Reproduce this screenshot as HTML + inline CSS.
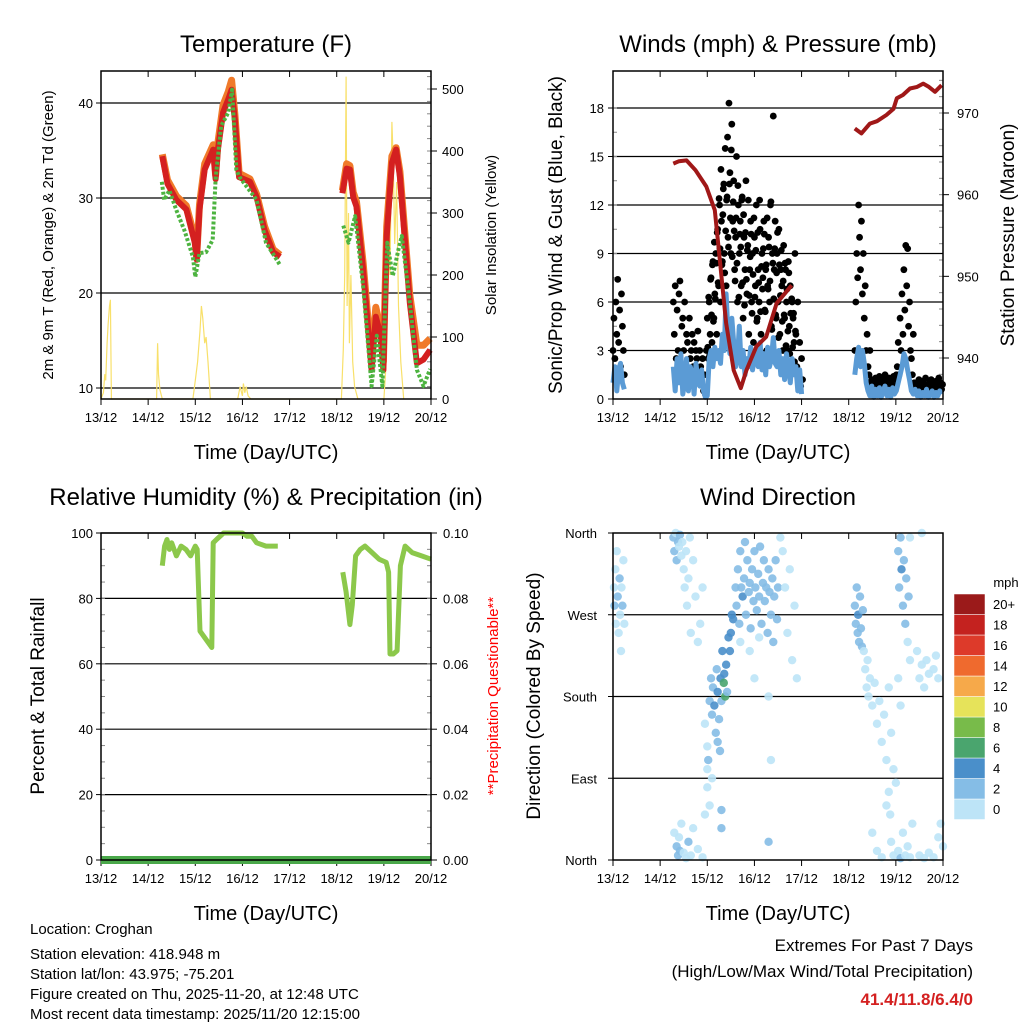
<!DOCTYPE html>
<html><head><meta charset="utf-8"><style>
body{margin:0;background:#fff;}
svg{display:block;font-family:"Liberation Sans",sans-serif;}
</style></head><body>
<svg id="fig" width="1024" height="1024" viewBox="0 0 1024 1024"></svg>
<script>
// ---------- data ----------
const dayLabels=["13/12","14/12","15/12","16/12","17/12","18/12","19/12","20/12"];
const tempTicks=[10,20,30,40];
const solarTicks=[0,100,200,300,400,500];
const windTicks=[0,3,6,9,12,15,18];
const presTicks=[940,950,960,970];
const rhTicks=[0,20,40,60,80,100];
const rainTicks=["0.00","0.02","0.04","0.06","0.08","0.10"];
const dirNames=["North","East","South","West","North"];
const speedLabels=["0","2","4","6","8","10","12","14","16","18","20+"];
const speedColors=["#bde4f7","#85bde6","#4a8fca","#4aa56e","#78bb4a","#e6e35a","#f6a94a","#ef6a2e","#dd3a2a","#c4221f","#9b1a1a"];

const t9T=[1.30,1.41,1.60,1.81,1.99,2.03,2.09,2.20,2.38,2.43,2.48,2.59,2.70,2.77,2.84,2.93,3.16,3.30,3.47,3.65,3.80];
const t9V=[34.4,31.5,29.8,28.8,25.3,23.5,28.8,33.0,35.1,32.0,35.1,39.0,40.4,41.4,38.2,32.2,31.7,30.1,26.6,24.3,23.8];
const t9T2=[5.12,5.21,5.28,5.35,5.42,5.56,5.74,5.83,5.92,5.99,6.06,6.17,6.26,6.34,6.55,6.70,6.84,6.98];
const t9V2=[30.5,33.1,33.0,30.1,29.1,22.5,11.9,17.5,15.8,11.9,26.0,33.7,35.1,32.3,19.0,12.6,13.0,14.0];
const t2T=[1.30,1.41,1.60,1.81,1.99,2.03,2.09,2.20,2.38,2.43,2.48,2.59,2.70,2.77,2.84,2.93,3.16,3.30,3.47,3.65,3.80];
const t2V=[34.6,31.9,30.2,29.2,25.8,23.8,29.3,33.6,35.6,32.4,35.8,39.8,41.2,42.4,38.8,32.6,32.0,30.4,27.0,24.6,24.0];
const t2T2=[5.12,5.21,5.28,5.35,5.42,5.56,5.74,5.83,5.92,5.99,6.06,6.17,6.26,6.34,6.55,6.70,6.84,6.98];
const t2V2=[30.8,33.6,33.4,30.6,29.6,23.2,12.8,18.5,16.5,12.8,27.0,34.4,35.3,32.8,19.8,14.5,14.5,15.2];
const tdT=[1.29,1.34,1.45,1.60,1.77,1.95,2.00,2.09,2.23,2.37,2.43,2.55,2.70,2.78,2.87,2.94,3.30,3.50,3.79];
const tdV=[31.7,29.8,30.8,28.7,26.6,23.8,21.7,24.2,24.3,25.6,32.0,37.6,39.0,41.4,33.0,32.2,29.8,25.3,23.0];
const tdT2=[5.14,5.25,5.39,5.56,5.74,5.85,5.97,6.07,6.19,6.31,6.38,6.55,6.70,6.84,6.98];
const tdV2=[27.1,25.3,28.1,20.7,10.2,15.5,10.2,25.3,21.8,24.6,26.0,19.0,11.9,10.2,12.0];
const solT=[0,0.05,0.08,0.1,0.13,0.15,0.18,0.2,0.22,1.18,1.2,1.22,1.25,1.3,1.95,2.0,2.05,2.1,2.13,2.16,2.2,2.23,2.27,2.32,2.9,2.95,3.0,3.02,3.05,3.08,3.12,3.18,5.1,5.14,5.17,5.2,5.22,5.25,5.27,5.3,5.34,5.38,5.45,5.5,6.0,6.05,6.1,6.13,6.17,6.2,6.23,6.27,6.31,6.36,6.42];
const solV=[0,10,40,30,90,120,150,160,0,0,90,40,15,0,0,30,60,110,150,130,90,100,60,0,0,20,5,25,10,20,5,0,0,80,200,520,150,300,90,200,60,20,0,0,0,60,300,200,447,380,250,350,150,60,0];

const presT=[1.28,1.40,1.56,1.75,1.98,2.16,2.26,2.40,2.56,2.71,2.83,3.04,3.25,3.47,3.79];
const presV=[963.8,964.1,964.2,963.0,961.0,958.1,952.4,944.3,938.5,936.3,938.5,941.4,942.6,946.7,948.9];
const presT2=[5.13,5.27,5.45,5.60,5.80,5.95,6.02,6.15,6.30,6.45,6.58,6.70,6.83,6.97];
const presV2=[968.1,967.5,968.7,969.0,969.75,970.5,971.8,972.2,973.0,973.2,973.6,973.2,972.6,973.4];

const windA=[1,2,0.5,1.8,2.2,1,0.6];
const windB=[2,0.5,2.5,1,2.8,0.3,1,2.5,0.5,2,1.5,0.3,2.2,1,0.8,1.8,0.5,0.1,0.2,2.5,3,2,3.2,2.5,3,2.2,4,3,6.5,4,2.8,5,3.5,2,2.5,4.5,2,3,1.5,2.5,2,3.2,1.8,2.5,3,2,3.5,1.8,2.8,1.5,3.2,2,2.5,3.8,2.2,2,3,1.5,2.5,1.2,2.8,2,1,2.5,1.5,2,0.5,1.8,0.3];
const windC=[1.5,2.5,3.2,2,3,2.2,1,0.5,0.2,0.8,0.1,0.6,0.2,0.7,0.1,0.5,0.8,0.2,0.6,0.1,0.7,0.3,0.5,1,1.5,2,2.8,2.5,1.8,1.2,0.5,0.3,0.6,0.2,0.5,0.1,0.4,0.2,0.6,0.1,0.3,0.5,0.1,0.4,0.2,0.5,0.3];
const gustA=[3,5,2.5,6,4,7.4,3.5,5.5,2,6.5,4.5,3,1.5];
const gustB=[6,4,7,2.5,5.5,3,6.5,7.3,2,4.5,5,3,6,2,4,3.5,1.5,5,2.5,3,4,2,3.5,1.5,3,2.5,4.2,1,3,2,1,2.5,0.5,1.5,0.3,3,5,2.5,6,4,7.5,3.5,8.5,5,6.5,9,4,10.5,7,12,6,11,8.5,13,9,15.5,7,12.5,10,18.3,14,9,17,11,13.5,8,10,15,6,12,9,11,7,12.5,5,10,8,13.5,6.5,9.5,4,8,11,6,9,3.5,10,7,12,5,8,6,10.5,4,9,7.5,11,5.5,8,3,7,10,6,12,4.5,9,17.5,8,11,5,9,6,10.5,4,8,7,3,9.5,5,8,6,3,8.5,4.5,7,2,6,5,3.5,9,4,2,6,1,3.5,0.8,2.5,1.2];
const gustB2=[3.2,6.3,2.7,7.4,5.2,8.3,4.8,9.7,6.2,8.4,10.3,7.2,12.4,9.3,14.2,8.3,11.4,13.3,7.8,10.4,12.3,16.2,9.4,13.3,11.2,15.4,8.8,12.2,10.4,7.3,11.2,8.4,13.2,6.3,10.2,9.4,12.3,7.2,11.4,5.8,10.3,7.4,9.2,12.3,6.4,8.8,10.2,5.3,7.7,11.2,6.3,9.2,4.8,10.3,7.2,12.3,5.4,8.2,6.8,9.3,10.2,5.4,8.3,11.2,6.8,9.4,7.3,12.2,4.3,8.4,6.2,9.3,5.2,7.8,10.3,3.8,8.3,6.4,9.2,4.8,7.3,5.2,8.4,3.3,6.8,4.2,7.8,2.8,5.3,6.2,3.2,5.3,2.3,4.2,1.8];
const gustC=[3,6,9,7.5,12,10,8,11,6.5,9,5,7,3,4,2,1.5,3,1,1.2,0.8,1,0.6,1.3,0.8,1.1,0.5,1.4,0.9,1,0.6,1.2,0.7,1.5,0.8,1.0,0.6,1.3,0.9,0.7,1.1,0.6,1.4,0.8,1.2,1.5,2,3.5,1.5,5,3,6.5,4,8,5.5,9.5,7,9.3,4.5,6,3,2.5,1.5,4,1,0.8,0.6,1,0.7,1.2,0.5,0.9,0.8,1.1,0.6,0.7,1.3,0.5,0.9,0.7,1,0.6,1.2,0.8,0.5,0.9,0.7,1.1,0.6,0.8,1.3,0.7,1,0.6,0.9];

const rhT=[1.30,1.35,1.40,1.45,1.50,1.60,1.70,1.80,1.90,2.00,2.04,2.10,2.20,2.30,2.35,2.38,2.45,2.60,2.80,3.00,3.10,3.20,3.30,3.50,3.75];
const rhV=[90,96,98,95,97,93,96,95,93,96,95,70,68,66,65,97,98,100,100,100,99,99,97,96,96];
const rhT2=[5.13,5.20,5.28,5.33,5.40,5.50,5.60,5.75,5.90,6.05,6.10,6.13,6.20,6.28,6.35,6.45,6.60,6.80,7.00];
const rhV2=[88,82,72,78,93,95,96,94,92,91,88,63,63,64,90,96,94,93,92];

const dirT=[0.02,0.03,0.05,0.06,0.08,0.1,0.12,0.14,0.15,0.17,0.18,0.2,0.22,0.24,
1.28,1.3,1.33,1.35,1.38,1.4,1.42,1.45,1.47,1.5,1.52,1.55,1.57,1.6,1.63,1.65,1.7,1.75,1.8,1.85,1.9,
1.3,1.35,1.38,1.4,1.42,1.45,1.5,1.55,1.6,1.65,1.7,1.8,1.9,1.95,2.0,2.05,2.3,2.3,
1.95,2.0,2.02,2.05,2.08,2.1,2.12,2.15,2.18,2.2,2.22,2.25,2.28,2.3,2.32,2.35,2.36,2.38,2.4,2.42,2.45,2.48,2.5,2.52,2.55,2.22,2.27,2.1,2.0,
2.6,2.62,2.65,2.68,2.7,2.72,2.75,2.78,2.8,2.82,2.85,2.88,2.9,2.92,2.95,2.98,3.0,3.02,3.05,3.08,3.1,3.12,3.15,3.18,3.2,3.22,3.25,3.28,3.3,3.32,3.35,3.38,3.4,3.42,3.45,3.48,3.5,2.7,2.9,3.1,3.3,3.0,3.6,3.65,3.7,3.75,3.8,3.85,3.9,3.55,3.3,3.35,
5.13,5.15,5.17,5.19,5.2,5.22,5.24,5.26,5.28,5.3,5.32,5.35,5.38,5.4,5.42,5.45,5.5,5.55,5.6,5.65,5.7,5.75,5.8,5.85,5.9,5.95,5.5,5.6,5.7,5.8,5.85,5.88,5.9,5.95,6.0,
6.05,6.07,6.1,6.12,6.15,6.17,6.2,6.22,6.25,6.27,6.3,6.05,6.1,6.05,6.1,6.15,6.2,6.25,6.3,6.35,
6.45,6.5,6.55,6.6,6.65,6.7,6.8,6.85,6.9,6.5,6.6,6.7,6.8,6.9,6.95,7.0,6.55,6.3];
const dirV=[300,280,320,260,340,290,250,310,270,230,300,280,330,260,
355,340,360,330,350,345,358,335,350,320,300,340,280,310,355,250,330,290,240,260,300,
30,15,5,25,10,40,8,2,20,5,35,12,3,50,80,60,55,35,
150,125,110,175,200,160,190,170,140,210,185,155,200,175,230,195,205,180,215,185,245,230,250,270,265,130,120,90,100,
300,280,320,260,340,300,290,310,350,270,330,295,305,255,320,285,340,300,275,315,290,345,260,305,330,285,300,250,320,295,270,310,240,290,330,265,300,240,230,245,180,200,340,300,250,320,220,280,200,355,20,110,
280,260,300,250,270,240,290,255,235,275,230,210,190,220,180,200,170,195,150,175,130,160,110,190,140,100,30,10,3,60,75,50,20,5,85,
340,300,355,320,280,330,260,310,240,290,220,200,170,10,2,30,5,15,3,40,
230,200,215,190,220,205,210,225,200,5,2,8,3,25,40,15,360,355];
const dirS=[0,2,0,0,0,2,0,2,0,0,0,2,0,0,
2,2,0,2,2,0,2,0,0,0,0,0,0,0,0,0,0,0,0,0,0,
0,2,2,0,2,0,0,0,2,0,0,0,0,0,0,0,2,2,
0,0,2,2,2,2,2,4,2,2,4,2,4,2,4,6,4,6,4,2,4,4,4,4,4,2,2,0,0,
2,2,2,2,2,2,4,2,2,2,2,2,2,2,2,2,2,2,2,2,2,2,2,2,2,2,2,2,2,2,2,2,2,2,2,2,2,0,0,0,0,0,0,0,0,0,0,0,0,0,2,0,
2,2,2,2,4,2,2,2,2,2,0,0,0,0,0,0,0,0,0,0,0,0,0,0,0,0,0,0,0,0,0,0,0,0,0,
2,2,2,4,2,2,2,2,0,2,0,0,0,0,2,0,0,0,0,0,
0,0,0,0,0,0,0,0,0,0,0,0,0,0,0,0,0,0];

// ---------- helpers ----------
const NS="http://www.w3.org/2000/svg";
const svg=document.getElementById('fig');
function mk(tag,attrs,parent){const e=document.createElementNS(NS,tag);for(const k in attrs)e.setAttribute(k,attrs[k]);(parent||svg).appendChild(e);return e;}
function txt(s,x,y,size,anchor,extra,parent){const e=mk('text',Object.assign({x:x,y:y,'font-size':size,'text-anchor':anchor||'middle',fill:'#000'},extra||{}),parent);e.textContent=s;return e;}
function panel(x0,y0,x1,y1){return {x0,y0,x1,y1,xs:t=>x0+t*(x1-x0)/7};}
function lin(d0,d1,p0,p1){return v=>p0+(v-d0)*(p1-p0)/(d1-d0);}
function pathD(ts,vs,xs,ys){return ts.map((t,i)=>(i?'L':'M')+xs(t).toFixed(1)+','+ys(vs[i]).toFixed(1)).join('');}

function frame(P,name){
  const g=mk('g',{});
  
  
  dayLabels.forEach((d,i)=>{
    const x=P.xs(i);
    mk('line',{x1:x,y1:P.y1,x2:x,y2:P.y1+6,stroke:'#000','stroke-width':1},g);
    mk('line',{x1:x,y1:P.y0,x2:x,y2:P.y0+6,stroke:'#000','stroke-width':1},g);
    const l=txt(d,x,P.y1+23,13,'middle',{},g);
    
    
  });
  const xl=txt('Time (Day/UTC)',(P.x0+P.x1)/2,P.y1+60,20,'middle',{},g);
  
  
  return g;
}
function border(P){
  const r=mk('rect',{x:P.x0,y:P.y0,width:P.x1-P.x0,height:P.y1-P.y0,fill:'none',stroke:'#000','stroke-width':1.5});
  
  
}
function grid(P,ys,vals){vals.forEach(v=>{const l=mk('line',{x1:P.x0,x2:P.x1,y1:ys(v),y2:ys(v),stroke:'#000','stroke-width':1.2});});}

// ---------- Panel 1: Temperature ----------
const P1=panel(101,71,431,399);
const yT=lin(10,40,388,103), yS=lin(0,500,399,89);
const t1=txt('Temperature (F)',266,52,24);


grid(P1,yT,tempTicks);
frame(P1,'temperature');
tempTicks.forEach(v=>{const l=txt(String(v),93,yT(v)+5,13,'end');mk('line',{x1:P1.x0,x2:P1.x0-5,y1:yT(v),y2:yT(v),stroke:'#000'});});
solarTicks.forEach(v=>{const l=txt(String(v),442,yS(v)+5,13,'start');mk('line',{x1:P1.x1,x2:P1.x1+6,y1:yS(v),y2:yS(v),stroke:'#000'});});
for(let v=0;v<=520;v+=20){mk('line',{x1:P1.x1-4,x2:P1.x1,y1:yS(v),y2:yS(v),stroke:'#888'});}
let a=txt('2m & 9m T (Red, Orange) & 2m Td (Green)',0,0,15,'middle',{transform:'translate(53,235) rotate(-90)'});

a=txt('Solar Insolation (Yellow)',0,0,15,'middle',{transform:'translate(496,235) rotate(-90)'});

let s=mk('path',{d:pathD(solT,solV,P1.xs,yS),fill:'none',stroke:'#f8e06a','stroke-width':1.2});

[[t2T,t2V],[t2T2,t2V2]].forEach(([T,V])=>{const p=mk('path',{d:pathD(T,V,P1.xs,yT),fill:'none',stroke:'#f07a2a','stroke-width':7,'stroke-linejoin':'round'});});
[[t9T,t9V],[t9T2,t9V2]].forEach(([T,V])=>{const p=mk('path',{d:pathD(T,V,P1.xs,yT),fill:'none',stroke:'#d42020','stroke-width':6,'stroke-linejoin':'round'});});
[[tdT,tdV],[tdT2,tdV2]].forEach(([T,V])=>{const p=mk('path',{d:pathD(T,V,P1.xs,yT),fill:'none',stroke:'#4db340','stroke-width':4,'stroke-dasharray':'3 2','stroke-linejoin':'round'});});
border(P1);

// ---------- Panel 2: Winds ----------
const P2=panel(613,71,943,399);
const yW=lin(0,18,399,108), yP=lin(940,970,358,113);
a=txt('Winds (mph) & Pressure (mb)',778,52,24);

grid(P2,yW,windTicks.slice(1));
frame(P2,'winds');
windTicks.forEach(v=>{const l=txt(String(v),604,yW(v)+5,13,'end');mk('line',{x1:P2.x0,x2:P2.x0-5,y1:yW(v),y2:yW(v),stroke:'#000'});});
for(let v=0;v<=19;v+=1.5){mk('line',{x1:P2.x0,x2:P2.x0+4,y1:yW(v),y2:yW(v),stroke:'#888'});}
presTicks.forEach(v=>{const l=txt(String(v),957,yP(v)+5,13,'start');mk('line',{x1:P2.x1,x2:P2.x1+6,y1:yP(v),y2:yP(v),stroke:'#000'});});
for(let v=936;v<=974;v+=2){mk('line',{x1:P2.x1-4,x2:P2.x1,y1:yP(v),y2:yP(v),stroke:'#888'});}
a=txt('Sonic/Prop Wind & Gust (Blue, Black)',0,0,19,'middle',{transform:'translate(562,235) rotate(-90)'});

a=txt('Station Pressure (Maroon)',0,0,19,'middle',{transform:'translate(1014,235) rotate(-90)'});

const gg=mk('g',{});

[[gustA,0,0.02],[gustB,1.28,0.02],[gustB2,2.01,0.02],[gustC,5.13,0.02]].forEach(([V,t0,st])=>{
  V.forEach((v,i)=>{const c=mk('circle',{cx:P2.xs(t0+i*st),cy:yW(v),r:3.4,fill:'#000'},gg);});
});
[[windA,0,0.04],[windB,1.28,0.04],[windC,5.13,0.04]].forEach(([V,t0,st])=>{
  const T=V.map((v,i)=>t0+i*st);
  const p=mk('path',{d:pathD(T,V,P2.xs,yW),fill:'none',stroke:'#5b9bd5','stroke-width':5,'stroke-linejoin':'round'});
  
});
[[presT,presV],[presT2,presV2]].forEach(([T,V])=>{const p=mk('path',{d:pathD(T,V,P2.xs,yP),fill:'none',stroke:'#a01818','stroke-width':4,'stroke-linejoin':'round'});});
border(P2);

// ---------- Panel 3: RH ----------
const P3=panel(101,533,431,860);
const yR=lin(0,100,860,533);
a=txt('Relative Humidity (%) & Precipitation (in)',266,505,24);

grid(P3,yR,rhTicks);
frame(P3,'rh');
rhTicks.forEach((v,i)=>{
  let l=txt(String(v),93,yR(v)+5,13,'end');
  mk('line',{x1:P3.x0,x2:P3.x0-5,y1:yR(v),y2:yR(v),stroke:'#000'});
  l=txt(rainTicks[i],443,yR(v)+5,13,'start');
  mk('line',{x1:P3.x1,x2:P3.x1+6,y1:yR(v),y2:yR(v),stroke:'#000'});
});
for(let v=0;v<=100;v+=5){mk('line',{x1:P3.x1-4,x2:P3.x1,y1:yR(v),y2:yR(v),stroke:'#888'});mk('line',{x1:P3.x0,x2:P3.x0+4,y1:yR(v),y2:yR(v),stroke:'#888'});}
a=txt('Percent & Total Rainfall',0,0,19,'middle',{transform:'translate(44,696) rotate(-90)'});

a=txt('**Precipitation Questionable**',0,0,15,'middle',{transform:'translate(498,696) rotate(-90)',fill:'#ff0000'});

let rp=mk('line',{x1:P3.x0,x2:P3.x1,y1:yR(0),y2:yR(0),stroke:'#4aa84a','stroke-width':8});

[[rhT,rhV],[rhT2,rhV2]].forEach(([T,V])=>{const p=mk('path',{d:pathD(T,V,P3.xs,yR),fill:'none',stroke:'#8cc84b','stroke-width':5,'stroke-linejoin':'round'});});
border(P3);

// ---------- Panel 4: Wind direction ----------
const P4=panel(613,533,943,860);
const yD=lin(0,360,860,533);
a=txt('Wind Direction',778,505,24);

grid(P4,yD,[90,180,270]);
frame(P4,'direction');
dirNames.forEach((n,i)=>{const l=txt(n,597,yD(i*90)+5,13,'end');mk('line',{x1:P4.x0,x2:P4.x0-5,y1:yD(i*90),y2:yD(i*90),stroke:'#000'});});
a=txt('Direction (Colored By Speed)',0,0,19,'middle',{transform:'translate(540,696) rotate(-90)'});

const dg=mk('g',{});

dirT.forEach((t,i)=>{const c=mk('circle',{cx:P4.xs(t),cy:yD(dirV[i]),r:4.2,fill:speedColors[Math.min(10,Math.round(dirS[i]/2))],'fill-opacity':0.9},dg);});
border(P4);

// colorbar
const cb=mk('g',{});

a=txt('mph',1006,587,13,'middle',{},cb);

speedLabels.forEach((lab,i)=>{
  const y=799-i*20.5;
  const r=mk('rect',{x:954,y:y,width:31,height:20.5,fill:speedColors[i],stroke:'#fff','stroke-width':0.5},cb);
  
  const l=txt(lab,993,y+15,13,'start',{},cb);
  
});

// footer
const info=["Location: Croghan","Station elevation: 418.948 m","Station lat/lon: 43.975; -75.201","Figure created on Thu, 2025-11-20, at 12:48 UTC","Most recent data timestamp: 2025/11/20 12:15:00"];
const iy=[934,959,979,999,1019];
info.forEach((s,i)=>{const l=txt(s,30,iy[i],15,'start');});
a=txt('Extremes For Past 7 Days',973,951,17,'end');
a=txt('(High/Low/Max Wind/Total Precipitation)',973,977,17,'end');
a=txt('41.4/11.8/6.4/0',973,1005,17,'end',{fill:'#d42020','font-weight':'bold'});
</script>
</body></html>
